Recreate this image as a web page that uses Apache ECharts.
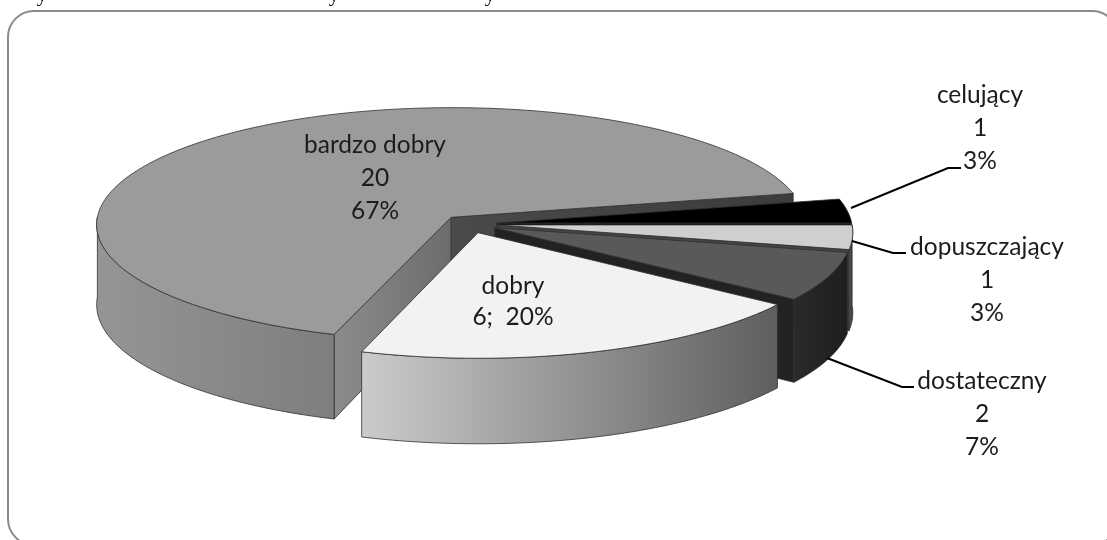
<!DOCTYPE html>
<html>
<head>
<meta charset="utf-8">
<style>html,body{margin:0;padding:0;background:#fff}#chart{width:1107px;height:540px}</style>
<script src="https://cdn.jsdelivr.net/npm/echarts@6/dist/echarts.min.js"></script>
</head>
<body>
<div id="chart"></div>
<script>
// Grades, listed clockwise from the first slice.
const grades = ['bardzo dobry', 'celujący', 'dopuszczający', 'dostateczny', 'dobry'];
const counts = [20, 1, 1, 2, 6];
const topColors = ['#9b9b9b', '#000000', '#cfcfcf', '#595959', '#f2f2f2'];

// Shading of the rim and of the two cut faces for each slice.
const rimStops = [
  ['#959595', '#7e7e7e'],
  ['#1a1a1a', '#000000'],
  ['#5a5a5a', '#333333'],
  ['#2a2a2a', '#1e1e1e'],
  ['#cbcbcb', '#5e5e5e']
];
const cutStart = [['#8c8c8c', '#6c6c6c'], ['#111111', '#111111'], ['#555555', '#555555'], ['#222222', '#222222'], ['#bbbbbb', '#777777']];
const cutEnd = [['#4a4a4a', '#3c3c3c'], ['#111111', '#111111'], ['#444444', '#444444'], ['#222222', '#222222'], ['#777777', '#777777']];

// Projection of the tilted pie.
const centre = { x: 469.5, y: 224 };
const radiusX = 355, radiusY = 117, thickness = 80, perspective = 0.06, explode = 0.0775;
const firstAngle = 108;

// Label placement: text centre, and the leader line where one exists.
const labelFont = '24.5px Lato';
const labelCentres = [[375, 178], [980, 128], [987, 280], [982, 414], [513, 302]];
const leaders = [
  null,
  [[851, 208], [948, 168], [961, 168]],
  [[852, 241], [893, 253], [906, 253]],
  [[827, 358], [902, 387], [914, 387]],
  null
];

// Tails of the sentence that runs off the top of the page.
const clippedLine = ['y', 'y', 'y'];
const clippedLineX = [42, 334, 490];

const total = counts.reduce((a, b) => a + b, 0);

function project(u, v, z) {
  const s = 1 / (1 - perspective * v);
  return [centre.x + radiusX * u * s, centre.y + radiusY * v * s + thickness * z * s];
}

function arcPoints(a0, a1, dx, dy, z) {
  const pts = [];
  const n = Math.max(2, Math.ceil(Math.abs(a1 - a0)));
  for (let i = 0; i <= n; i++) {
    const a = (a0 + (a1 - a0) * i / n) * Math.PI / 180;
    pts.push(project(dx + Math.cos(a), dy + Math.sin(a), z));
  }
  return pts;
}

function poly(points, fill, z2) {
  return {
    type: 'polygon', z2,
    shape: { points },
    style: { fill, stroke: '#303030', lineWidth: 0.8, lineJoin: 'round' }
  };
}

// Horizontal shading over a face, spanning its own bounding box.
function hGrad(stops) {
  return { type: 'linear', x: 0, y: 0, x2: 1, y2: 0, colorStops: [{ offset: 0, color: stops[0] }, { offset: 1, color: stops[1] }] };
}

function sliceElements(i, a0, a1) {
  const mid = (a0 + a1) / 2 * Math.PI / 180;
  const dx = explode * Math.cos(mid), dy = explode * Math.sin(mid);
  const base = (i === 0 ? 0 : 10 + i) * 10;
  const apexTop = project(dx, dy, 0), apexBot = project(dx, dy, 1);
  const out = [];
  const edge = a => [project(dx + Math.cos(a * Math.PI / 180), dy + Math.sin(a * Math.PI / 180), 0),
                     project(dx + Math.cos(a * Math.PI / 180), dy + Math.sin(a * Math.PI / 180), 1)];

  // Cut faces are drawn only when they turn towards the viewer.
  if (Math.sin((a0 - 90) * Math.PI / 180) > 0) {
    const e = edge(a0);
    out.push(poly([apexTop, e[0], e[1], apexBot], hGrad(cutStart[i]), base + 1));
  }
  if (Math.sin((a1 + 90) * Math.PI / 180) > 0) {
    const e = edge(a1);
    out.push(poly([apexTop, e[0], e[1], apexBot], hGrad(cutEnd[i]), base + 1));
  }

  // The rim exists only over the front half of the circle.
  [[a0, a1], [a0 - 360, a1 - 360]].forEach(([p, q]) => {
    const from = Math.max(p, 0), to = Math.min(q, 180);
    if (to > from) {
      const upper = arcPoints(from, to, dx, dy, 0);
      const lower = arcPoints(from, to, dx, dy, 1);
      out.push(poly(upper.concat(lower.reverse()), hGrad(rimStops[i]), base + 2));
    }
  });

  out.push(poly([apexTop].concat(arcPoints(a0, a1, dx, dy, 0)), topColors[i], base + 3));
  return out;
}

function labelElements(i) {
  const pct = Math.round(counts[i] / total * 100);
  const text = grades[i] === 'dobry'
    ? grades[i] + '\n' + counts[i] + ';  ' + pct + '%'
    : grades[i] + '\n' + counts[i] + '\n' + pct + '%';
  const out = [{
    type: 'text', z2: 500,
    x: labelCentres[i][0], y: labelCentres[i][1],
    style: {
      text, fill: '#1c1c1c', align: 'center', verticalAlign: 'middle',
      font: labelFont, lineHeight: grades[i] === 'dobry' ? 31 : 33
    }
  }];
  if (leaders[i]) {
    out.push({
      type: 'polyline', z2: 400,
      shape: { points: leaders[i] },
      style: { stroke: '#000', lineWidth: 2, fill: null }
    });
  }
  return out;
}

function renderAll() {
  const children = [];
  let a = firstAngle;
  counts.forEach((c, i) => {
    const sweep = c / total * 360;
    children.push(...sliceElements(i, a, a + sweep));
    children.push(...labelElements(i));
    a += sweep;
  });
  return { type: 'group', children };
}

const chart = echarts.init(document.getElementById('chart'), null, { renderer: 'canvas' });
chart.setOption({
  animation: false,
  backgroundColor: '#ffffff',
  graphic: [{
    type: 'rect', z: -1,
    shape: { x: 8, y: 11, width: 1110, height: 534, r: 26 },
    style: { fill: '#ffffff', stroke: '#8a8a8a', lineWidth: 2 }
  }].concat(clippedLine.map((t, i) => ({
    type: 'text', z: 5,
    x: clippedLineX[i], y: -15,
    style: { text: t, font: '21px "Liberation Serif"', fill: '#000', align: 'center', verticalAlign: 'top' }
  }))),
  series: [{
    type: 'custom',
    coordinateSystem: 'none',
    data: [0],
    silent: true,
    renderItem: renderAll
  }]
});
</script>
</body>
</html>
